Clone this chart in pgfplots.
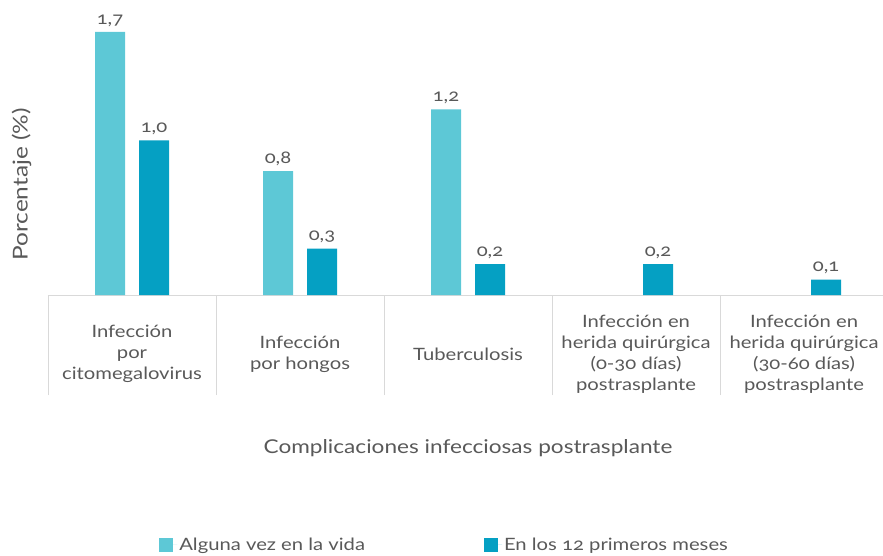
\documentclass[border=0pt]{standalone}
\usepackage{fontspec}
\setmainfont{Lato}[Numbers=OldStyle, FakeStretch=1.19]
\usepackage{pgfplots}
\pgfplotsset{compat=1.18}
\definecolor{light}{HTML}{5DC8D6}
\definecolor{dark}{HTML}{05A0C3}
\definecolor{txt}{HTML}{595959}
\definecolor{gridc}{HTML}{D9D9D9}
\begin{document}
\begin{tikzpicture}
\begin{axis}[name=ax,
  scale only axis, width=835pt, height=285pt,
  xmin=-0.5, xmax=4.47, ymin=0, ymax=1.842,
  axis x line*=bottom, hide y axis,
  axis line style={gridc, line width=0.8pt},
  ybar, bar width=30pt,
  xtick={0,1,2,3,4},
  xticklabels={{Infección\\por\\citomegalovirus},{Infección\\por hongos},{Tuberculosis},{Infección en\\herida quirúrgica\\(0-30 días)\\postrasplante},{Infección en\\herida quirúrgica\\(30-60 días)\\postrasplante}},
  major tick length=0pt,
  extra x ticks={-0.5,0.5,1.5,2.5,3.5},
  extra x tick labels={},
  extra x tick style={major tick length=100pt, tick align=outside, tick style={gridc, line width=0.8pt}},
  xticklabel style={anchor=center, yshift=-59pt, align=center, text=txt, font=\fontsize{17}{21}\selectfont},
  clip=false,
  /pgf/number format/assume math mode=true,
  nodes near coords={\pgfmathprintnumber[fixed, fixed zerofill, precision=1, use comma]{\pgfplotspointmeta}},
  every node near coord/.append style={text=txt, font=\fontsize{17}{20}\selectfont, anchor=south, yshift=2pt},
  legend style={at={(0.475,-0.877)}, anchor=center, draw=none, fill=none, legend columns=2, font=\fontsize{17}{20}\selectfont, text=txt, /tikz/every even column/.append style={column sep=117pt}},
  legend image code/.code={\draw[#1,/tikz/.cd,draw=none] (0pt,-7pt) rectangle (14pt,7pt); \path (0pt,0pt) -- (18pt,0pt);},
]
\addplot[fill=light, draw=none, bar shift=-22pt] coordinates {(0,1.7) (1,0.8) (2,1.2)};
\addplot[fill=dark, draw=none, bar shift=22pt] coordinates {(0,1.0) (1,0.3) (2,0.2) (3,0.2) (4,0.1)};
\legend{Alguna vez en la vida, En los 12 primeros meses}
\node[rotate=90, text=txt, font=\fontsize{20.5}{24}\selectfont] at (axis description cs:-0.0318,0.388) {Porcentaje (\%)};
\node[text=txt, font=\fontsize{19}{23}\selectfont] at (axis description cs:0.503,-0.537) {Complicaciones infecciosas postrasplante};
\end{axis}
\pgfresetboundingbox
\useasboundingbox (ax.south west) ++(-48pt,-261pt) rectangle ++(883pt,556pt);
\end{tikzpicture}
\end{document}
